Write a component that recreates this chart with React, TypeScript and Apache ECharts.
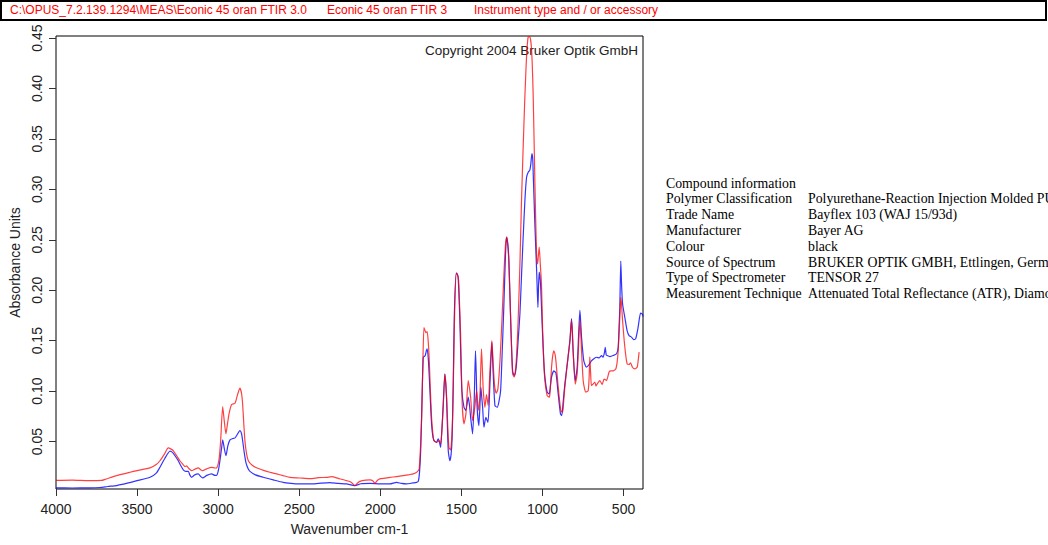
import React, { useEffect, useRef } from "react";
import * as echarts from "echarts";

// Axis ticks
const xTickValues = [4000, 3500, 3000, 2500, 2000, 1500, 1000, 500];
const yTickValues = [0.05, 0.1, 0.15, 0.2, 0.25, 0.3, 0.35, 0.4, 0.45];

// Blue spectrum (wavenumber, absorbance)
const blueWn = [
  4000, 3900, 3800, 3729, 3680, 3626, 3560, 3500, 3420, 3380, 3359, 3330, 3297, 3280, 3262, 3246, 3230, 3215,
  3200, 3184, 3175, 3164, 3145, 3123, 3108, 3096, 3070, 3040, 3020, 3009, 2998, 2989, 2980, 2972, 2962, 2952,
  2940, 2927, 2910, 2896, 2882, 2866, 2856, 2849, 2840, 2829, 2815, 2804, 2770, 2722, 2660, 2599, 2550, 2506,
  2434, 2380, 2311, 2260, 2208, 2157, 2120, 2064, 2000, 1941, 1900, 1870, 1839, 1800, 1777, 1766, 1758, 1751,
  1743, 1735, 1724, 1716, 1711, 1704, 1698, 1691, 1684, 1676, 1669, 1653, 1643, 1636, 1628, 1620, 1612, 1602,
  1596, 1591, 1581, 1571, 1563, 1557, 1550, 1544, 1532, 1526, 1520, 1510, 1503, 1497, 1484, 1472, 1458, 1450,
  1443, 1431, 1421, 1413, 1408, 1403, 1392, 1380, 1375, 1369, 1361, 1349, 1336, 1324, 1312, 1304, 1293, 1279,
  1268, 1258, 1248, 1238, 1228, 1221, 1213, 1207, 1194, 1184, 1174, 1167, 1160, 1150, 1139, 1129, 1119, 1108,
  1098, 1088, 1078, 1072, 1065, 1060, 1057, 1047, 1036, 1032, 1028, 1024, 1020, 1012, 1002, 992, 985, 971,
  959, 954, 944, 930, 917, 903, 889, 881, 872, 862, 842, 830, 821, 816, 811, 798, 786, 776, 769, 764, 759, 745,
  729, 712, 698, 683, 667, 650, 636, 626, 618, 613, 607, 601, 584, 564, 543, 533, 526, 523, 517, 512, 506, 492,
  478, 466, 451, 437, 425, 410, 395, 383, 380,
];
const blueAbs = [
  0.0042, 0.004, 0.0041, 0.0045, 0.0055, 0.0064, 0.0088, 0.0113, 0.0146, 0.019, 0.0245, 0.033, 0.0405, 0.039,
  0.035, 0.031, 0.026, 0.022, 0.0205, 0.0205, 0.017, 0.0146, 0.017, 0.018, 0.0155, 0.014, 0.0165, 0.018, 0.0165,
  0.0166, 0.022, 0.031, 0.042, 0.0517, 0.043, 0.036, 0.046, 0.0517, 0.053, 0.0537, 0.057, 0.061, 0.058, 0.051,
  0.04, 0.0295, 0.023, 0.0205, 0.017, 0.0146, 0.012, 0.0096, 0.0086, 0.008, 0.008, 0.0086, 0.0093, 0.0085, 0.008,
  0.0063, 0.0082, 0.0086, 0.008, 0.008, 0.0096, 0.0085, 0.008, 0.009, 0.0096, 0.0105, 0.02, 0.041, 0.09, 0.1336,
  0.135, 0.14, 0.142, 0.132, 0.114, 0.09, 0.0676, 0.055, 0.051, 0.0493, 0.0527, 0.05, 0.0443, 0.062, 0.0874,
  0.117, 0.106, 0.0907, 0.041, 0.031, 0.038, 0.0543, 0.11, 0.173, 0.217, 0.216, 0.213, 0.173, 0.13, 0.1006, 0.084,
  0.081, 0.094, 0.086, 0.074, 0.0576, 0.0907, 0.14, 0.115, 0.084, 0.0659, 0.104, 0.095, 0.084, 0.0642, 0.074,
  0.069, 0.107, 0.1485, 0.118, 0.0857, 0.084, 0.09, 0.1006, 0.14, 0.185, 0.235, 0.2527, 0.245, 0.2296, 0.16, 0.12,
  0.1155, 0.118, 0.127, 0.15, 0.1767, 0.215, 0.2527, 0.29, 0.312, 0.317, 0.319, 0.325, 0.3354, 0.33, 0.3156, 0.266,
  0.2196, 0.2, 0.183, 0.205, 0.218, 0.2065, 0.1668, 0.13, 0.114, 0.099, 0.0973, 0.1006, 0.114, 0.12, 0.118,
  0.0973, 0.0775, 0.0758, 0.09, 0.107, 0.134, 0.152, 0.172, 0.16, 0.14, 0.1105, 0.1237, 0.16, 0.18, 0.168, 0.1535,
  0.13, 0.1237, 0.1264, 0.13, 0.132, 0.1336, 0.133, 0.1353, 0.1336, 0.138, 0.1435, 0.136, 0.1353, 0.1343, 0.1353,
  0.137, 0.1435, 0.17, 0.183, 0.229, 0.205, 0.1866, 0.173, 0.16, 0.155, 0.1535, 0.151, 0.152, 0.1634, 0.1773,
  0.176, 0.174,
];

// Red spectrum (wavenumber, absorbance)
const redWn = [
  4000, 3900, 3800, 3720, 3698, 3626, 3544, 3500, 3420, 3380, 3359, 3330, 3308, 3290, 3277, 3256, 3236, 3215,
  3205, 3195, 3180, 3164, 3145, 3123, 3108, 3096, 3071, 3040, 3020, 3009, 2995, 2985, 2972, 2962, 2952, 2942,
  2933, 2917, 2896, 2882, 2866, 2856, 2849, 2842, 2835, 2825, 2814, 2790, 2763, 2720, 2681, 2640, 2599, 2557,
  2516, 2480, 2434, 2380, 2330, 2300, 2260, 2208, 2180, 2157, 2140, 2126, 2090, 2064, 2045, 2033, 2020, 2003,
  1970, 1941, 1900, 1859, 1820, 1797, 1776, 1766, 1760, 1752, 1745, 1738, 1731, 1724, 1719, 1711, 1704, 1698,
  1691, 1684, 1676, 1669, 1653, 1643, 1637, 1628, 1620, 1612, 1602, 1596, 1591, 1584, 1577, 1567, 1560, 1554,
  1547, 1540, 1530, 1522, 1517, 1511, 1505, 1495, 1484, 1472, 1458, 1450, 1443, 1431, 1417, 1406, 1396, 1386,
  1376, 1370, 1365, 1355, 1345, 1335, 1324, 1312, 1304, 1295, 1285, 1275, 1262, 1250, 1238, 1228, 1221, 1213,
  1207, 1194, 1184, 1174, 1167, 1160, 1150, 1139, 1129, 1119, 1110, 1102, 1095, 1088, 1078, 1067, 1057, 1047,
  1036, 1030, 1025, 1020, 1013, 1006, 999, 992, 985, 971, 959, 954, 944, 937, 930, 923, 917, 903, 887, 876, 870,
  862, 842, 830, 821, 816, 811, 798, 786, 776, 769, 764, 759, 749, 740, 733, 718, 712, 708, 703, 698, 688, 677,
  670, 663, 646, 632, 620, 605, 589, 578, 568, 548, 540, 533, 523, 517, 512, 506, 492, 478, 466, 457, 445, 431,
  416, 410, 404,
];
const redAbs = [
  0.0115, 0.0118, 0.0113, 0.0115, 0.0125, 0.0163, 0.0196, 0.0212, 0.0239, 0.0275, 0.031, 0.038, 0.0437, 0.0425,
  0.041, 0.036, 0.031, 0.027, 0.0252, 0.026, 0.0232, 0.0212, 0.0225, 0.024, 0.0222, 0.0212, 0.023, 0.0245,
  0.0238, 0.024, 0.032, 0.05, 0.0847, 0.07, 0.0576, 0.068, 0.0775, 0.0867, 0.088, 0.0956, 0.103, 0.098, 0.087,
  0.068, 0.051, 0.038, 0.031, 0.0265, 0.024, 0.0215, 0.0196, 0.018, 0.0163, 0.0146, 0.014, 0.0138, 0.0133,
  0.0142, 0.0146, 0.0152, 0.0135, 0.0113, 0.0098, 0.0063, 0.009, 0.0106, 0.0118, 0.012, 0.011, 0.0086, 0.0112,
  0.013, 0.0138, 0.0146, 0.0152, 0.0163, 0.0173, 0.018, 0.0196, 0.0212, 0.023, 0.045, 0.074, 0.125, 0.163, 0.16,
  0.158, 0.159, 0.148, 0.13, 0.1, 0.074, 0.058, 0.051, 0.0493, 0.05, 0.051, 0.0477, 0.062, 0.084, 0.117, 0.108,
  0.094, 0.065, 0.0443, 0.0418, 0.052, 0.074, 0.13, 0.19, 0.217, 0.214, 0.2097, 0.185, 0.157, 0.0874, 0.0676,
  0.0775, 0.1105, 0.103, 0.094, 0.0708, 0.084, 0.1006, 0.081, 0.094, 0.142, 0.12, 0.1006, 0.084, 0.0966, 0.0857,
  0.12, 0.15, 0.127, 0.105, 0.098, 0.102, 0.13, 0.17, 0.215, 0.245, 0.2527, 0.243, 0.226, 0.16, 0.117, 0.114,
  0.12, 0.134, 0.17, 0.226, 0.29, 0.342, 0.385, 0.418, 0.44, 0.451, 0.4515, 0.438, 0.3916, 0.309, 0.233, 0.226,
  0.235, 0.2428, 0.225, 0.206, 0.16, 0.13, 0.1105, 0.0956, 0.094, 0.0973, 0.1237, 0.135, 0.14, 0.137, 0.13, 0.104,
  0.081, 0.079, 0.088, 0.104, 0.134, 0.15, 0.17, 0.16, 0.14, 0.107, 0.117, 0.15, 0.17, 0.158, 0.14, 0.1105, 0.102,
  0.099, 0.1006, 0.115, 0.134, 0.118, 0.1055, 0.107, 0.109, 0.105, 0.107, 0.1105, 0.1065, 0.112, 0.1105, 0.119,
  0.12, 0.12, 0.122, 0.128, 0.14, 0.173, 0.193, 0.185, 0.17, 0.1435, 0.127, 0.1264, 0.128, 0.1237, 0.122, 0.1237,
  0.13, 0.1387,
];

// Header strip texts
const headerTexts = [
  "C:\\OPUS_7.2.139.1294\\MEAS\\Econic 45 oran FTIR 3.0",
  "Econic 45 oran FTIR 3",
  "Instrument type and / or accessory",
];

// Compound information block
const infoLabels = [
  "Compound information",
  "Polymer Classification",
  "Trade Name",
  "Manufacturer",
  "Colour",
  "Source of Spectrum",
  "Type of Spectrometer",
  "Measurement Technique",
];
const infoValues = [
  "",
  "Polyurethane-Reaction Injection Molded PUR",
  "Bayflex 103 (WAJ 15/93d)",
  "Bayer AG",
  "black",
  "BRUKER OPTIK GMBH, Ettlingen, Germany",
  "TENSOR 27",
  "Attenuated Total Reflectance (ATR), Diamond",
];

const SANS = '"Liberation Sans", Arial, sans-serif';
const SERIF = '"Liberation Serif", "Times New Roman", serif';

export default function App() {
  const ref = useRef<HTMLDivElement>(null);

  useEffect(() => {
    if (!ref.current) return;
    const chart = echarts.init(ref.current, null, { renderer: "svg" });

    const headerX = [10, 327, 474];
    const graphic: any[] = [
      {
        type: "rect",
        shape: { x: 1, y: 1, width: 1045, height: 19 },
        style: { fill: "none", stroke: "#000", lineWidth: 2 },
        silent: true,
      },
      ...headerTexts.map((t, i) => ({
        type: "text",
        x: headerX[i],
        y: 10,
        style: {
          text: t,
          fill: "#ff0000",
          font: `12px ${SANS}`,
          verticalAlign: "middle",
          textAlign: "left",
        },
        silent: true,
      })),
      {
        type: "text",
        x: 638,
        y: 50,
        style: {
          text: "Copyright 2004 Bruker Optik GmbH",
          fill: "#222",
          font: `13.5px ${SANS}`,
          textAlign: "right",
          verticalAlign: "middle",
        },
        silent: true,
      },
    ];
    infoLabels.forEach((label, i) => {
      const y = 183 + i * 15.8;
      graphic.push({
        type: "text",
        x: 666,
        y,
        style: { text: label, fill: "#000", font: `13.8px ${SERIF}`, verticalAlign: "middle" },
        silent: true,
      });
      if (infoValues[i]) {
        graphic.push({
          type: "text",
          x: 808,
          y,
          style: { text: infoValues[i], fill: "#000", font: `13.8px ${SERIF}`, verticalAlign: "middle" },
          silent: true,
        });
      }
    });

    chart.setOption({
      animation: false,
      backgroundColor: "#fff",
      grid: {
        left: 56,
        right: 405,
        top: 36,
        bottom: 56,
        outerBoundsMode: "none",
        containLabel: false,
        show: true,
        borderColor: "#000",
        borderWidth: 1,
        backgroundColor: "transparent",
      },
      xAxis: {
        type: "value",
        inverse: true,
        min: 380,
        max: 4000,
        name: "Wavenumber cm-1",
        nameLocation: "middle",
        nameGap: 33,
        nameTextStyle: { fontFamily: SANS, fontSize: 14, color: "#222" },
        axisLine: { show: false },
        splitLine: { show: false },
        axisTick: {
          show: true,
          length: 7,
          customValues: xTickValues,
          lineStyle: { color: "#333", width: 1 },
        },
        axisLabel: {
          customValues: xTickValues,
          margin: 13,
          fontFamily: SANS,
          fontSize: 14,
          color: "#222",
          formatter: (v: number) => String(v),
        },
      },
      yAxis: {
        type: "value",
        min: 0.003,
        max: 0.452,
        name: "Absorbance Units",
        nameLocation: "middle",
        nameRotate: 90,
        nameGap: 34,
        nameTextStyle: { fontFamily: SANS, fontSize: 14, color: "#222" },
        axisLine: { show: false },
        splitLine: { show: false },
        axisTick: {
          show: true,
          length: 7,
          customValues: yTickValues,
          lineStyle: { color: "#333", width: 1 },
        },
        axisLabel: {
          customValues: yTickValues,
          rotate: 90,
          margin: 12,
          fontFamily: SANS,
          fontSize: 14,
          color: "#222",
          formatter: (v: number) => v.toFixed(2),
        },
      },
      series: [
        {
          type: "line",
          name: "blue",
          data: blueWn.map((w, i) => [w, blueAbs[i]]),
          showSymbol: false,
          symbol: "none",
          smooth: 0.2,
          clip: true,
          lineStyle: { color: "#0000ff", width: 1.2, opacity: 0.8 },
          silent: true,
        },
        {
          type: "line",
          name: "red",
          data: redWn.map((w, i) => [w, redAbs[i]]),
          showSymbol: false,
          symbol: "none",
          smooth: 0.2,
          clip: true,
          lineStyle: { color: "#ff0000", width: 1.2, opacity: 0.75 },
          silent: true,
        },
      ],
      graphic,
    });

    return () => chart.dispose();
  }, []);

  return (
    <div
      ref={ref}
      style={{ position: "fixed", left: 0, top: 0, width: 1048, height: 545, background: "#fff" }}
    />
  );
}
